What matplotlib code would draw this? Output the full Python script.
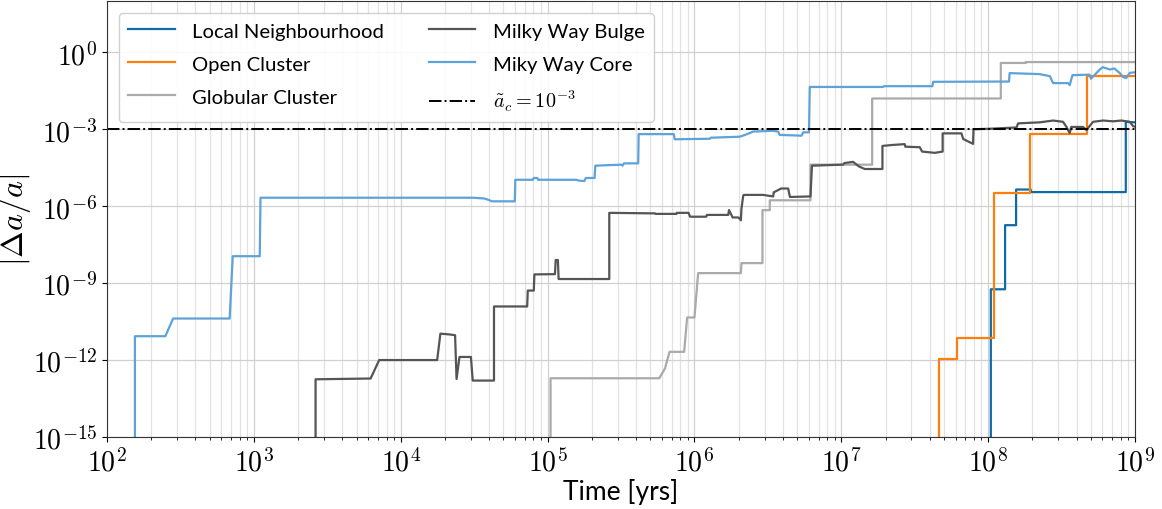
import numpy as np
import matplotlib
matplotlib.use("Agg")
import matplotlib.pyplot as plt
from matplotlib.ticker import LogLocator, NullLocator, NullFormatter, FuncFormatter

plt.rcParams['mathtext.fontset'] = 'cm'
plt.rcParams['font.family'] = ['Lato', 'DejaVu Sans']

# values: log10(time [yrs]) and log10(|da/a|)
BOTTOM = -20

local_t = [8.018, 8.018, 8.115, 8.115, 8.19, 8.19, 8.29, 8.29, 8.937, 8.937, 9.0]
local_y = [BOTTOM, -9.24, -9.24, -6.74, -6.74, -5.35, -5.35, -5.45, -5.45, -2.71, -2.73]

open_t = [7.664, 7.664, 7.79, 7.79, 8.04, 8.04, 8.283, 8.283, 8.673, 8.673, 9.0]
open_y = [BOTTOM, -11.97, -11.97, -11.13, -11.13, -5.48, -5.48, -3.18, -3.18, -0.92, -0.92]

glob_t = [5.02, 5.02, 5.76, 5.80, 5.83, 5.93, 5.95, 6.0, 6.025, 6.316, 6.32,
          6.463, 6.463, 6.513, 6.513, 6.79, 6.79, 7.21, 7.21, 8.086, 8.086,
          8.256, 8.256, 9.0]
glob_y = [BOTTOM, -12.71, -12.71, -12.32, -11.68, -11.68, -10.34, -10.34, -8.61, -8.61, -8.22,
          -8.22, -6.155, -6.155, -5.77, -5.77, -4.38, -4.38, -1.80, -1.80, -0.415,
          -0.415, -0.38, -0.38]

bulge_t = [3.42, 3.42, 3.795, 3.853, 4.248, 4.27, 4.33, 4.37, 4.38, 4.40, 4.478, 4.49,
           4.635, 4.635, 4.861, 4.865, 4.906, 4.91, 5.05, 5.055, 5.07, 5.075,
           5.42, 5.42, 5.73, 5.735, 5.878, 5.88, 5.96, 5.97, 6.08, 6.085, 6.23, 6.235,
           6.26, 6.30, 6.316, 6.32, 6.332, 6.336, 6.468, 6.536, 6.54, 6.59, 6.638, 6.65,
           6.79, 6.80, 7.012, 7.02, 7.08, 7.12, 7.16, 7.28, 7.28, 7.353, 7.432, 7.436,
           7.534, 7.55, 7.636, 7.69, 7.69, 7.818, 7.83, 7.897, 7.90, 8.011, 8.193,
           8.204, 8.351, 8.442, 8.51, 8.533, 8.555, 8.566, 8.646, 8.669, 8.714, 8.782,
           8.85, 8.907, 8.964, 8.987, 9.0]
bulge_y = [BOTTOM, -12.75, -12.72, -12.0, -12.0, -10.97, -11.0, -11.03, -12.74, -11.88, -11.88, -12.8,
           -12.8, -9.91, -9.91, -9.29, -9.29, -8.66, -8.65, -8.10, -8.10, -8.84,
           -8.84, -6.26, -6.28, -6.30, -6.30, -6.26, -6.26, -6.41, -6.41, -6.34, -6.34, -6.15,
           -6.44, -6.44, -6.55, -6.10, -5.59, -5.56, -5.56, -5.62, -5.46, -5.31, -5.31, -5.64,
           -5.62, -4.42, -4.38, -4.32, -4.27, -4.45, -4.55, -4.55, -3.65, -3.61, -3.58, -3.68,
           -3.70, -3.87, -3.92, -3.87, -3.16, -3.16, -3.38, -3.57, -3.0, -2.98, -2.93,
           -2.77, -2.73, -2.66, -2.71, -2.91, -3.15, -2.91, -2.91, -3.03, -2.71, -2.66,
           -2.69, -2.66, -2.71, -2.88, -2.90]

core_t = [2.19, 2.19, 2.397, 2.45, 2.835, 2.856, 3.04, 3.045, 4.493, 4.57, 4.60, 4.62,
          4.777, 4.78, 4.90, 4.905, 4.93, 4.935, 5.197, 5.21, 5.25, 5.26, 5.32, 5.325,
          5.503, 5.51, 5.52, 5.617, 5.62, 5.86, 5.865, 6.105, 6.11, 6.309, 6.354, 6.40,
          6.536, 6.57, 6.58, 6.729, 6.74, 6.78, 6.785, 7.285, 7.29, 7.62, 7.625, 8.079,
          8.142, 8.146, 8.351, 8.42, 8.442, 8.544, 8.555, 8.574, 8.69, 8.70, 8.76, 8.78,
          8.83, 8.86, 8.896, 8.92, 8.94, 8.964, 9.0]
core_y = [BOTTOM, -11.07, -11.07, -10.38, -10.38, -7.95, -7.95, -5.67, -5.67, -5.70, -5.76, -5.81,
          -5.81, -4.97, -4.97, -4.90, -4.90, -4.97, -4.97, -5.0, -5.02, -4.90, -4.90, -4.42,
          -4.38, -4.42, -4.33, -4.33, -3.19, -3.19, -3.39, -3.37, -3.33, -3.29, -3.20, -3.09,
          -3.06, -3.09, -3.22, -3.25, -3.12, -3.12, -1.35, -1.35, -1.32, -1.32, -1.15, -1.14,
          -1.14, -0.81, -0.85, -0.93, -1.20, -1.20, -1.28, -0.89, -0.87, -1.03, -0.67, -0.58,
          -0.67, -0.63, -0.81, -0.97, -1.0, -0.80, -0.78]

names = ['Local Neighbourhood', 'Open Cluster', 'Globular Cluster', 'Milky Way Bulge', 'Miky Way Core']
colors = ['#0f6aa8', '#ff7f0e', '#aaaaaa', '#555555', '#5da2d9']
a_crit = 1e-3

series = [(local_t, local_y), (open_t, open_y), (glob_t, glob_y),
          (bulge_t, bulge_y), (core_t, core_y)]

fig = plt.figure(figsize=(11.62, 5.10), dpi=100)
ax = fig.add_axes([0.0921, 0.1412, 0.8847, 0.8548])

for (t, y), name, c in zip(series, names, colors):
    ax.plot(10.0 ** np.array(t), 10.0 ** np.array(y), color=c, lw=1.6, label=name)

ax.axhline(a_crit, color='black', ls='-.', lw=1.4, label=r'$\tilde{a}_c = 10^{-3}$')

ax.set_xscale('log')
ax.set_yscale('log')
ax.set_xlim(1e2, 1e9)
ax.set_ylim(1e-15, 1e2)
ax.set_yticks([1e0, 1e-3, 1e-6, 1e-9, 1e-12, 1e-15])
ax.yaxis.set_minor_locator(NullLocator())
ax.xaxis.set_major_locator(LogLocator(base=10, numticks=20))
ax.xaxis.set_minor_locator(LogLocator(base=10, subs=np.arange(2, 10), numticks=100))
ax.xaxis.set_minor_formatter(NullFormatter())

pow_fmt = FuncFormatter(lambda v, pos: r'$10^{%d}$' % int(round(np.log10(v))))
ax.xaxis.set_major_formatter(pow_fmt)
ax.yaxis.set_major_formatter(pow_fmt)

ax.grid(True, which='major', color='#d0d0d0', lw=0.9)
ax.grid(True, which='minor', axis='x', color='#e2e2e2', lw=0.9)
ax.set_axisbelow(True)

ax.tick_params(labelsize=20)
for s in ax.spines.values():
    s.set_color('#333333')

ax.set_xlabel('Time [yrs]', fontsize=19, labelpad=2)
ax.set_ylabel(r'$|\Delta a/a|$', fontsize=23)
ax.yaxis.set_label_coords(-0.072, 0.5)

ax.legend(loc='upper left', ncol=2, fontsize=14.6, handlelength=2.3,
          handletextpad=0.85, columnspacing=2.2, labelspacing=0.78,
          borderpad=0.45, borderaxespad=0.6, framealpha=0.9)

fig.savefig('out.png', dpi=100)
